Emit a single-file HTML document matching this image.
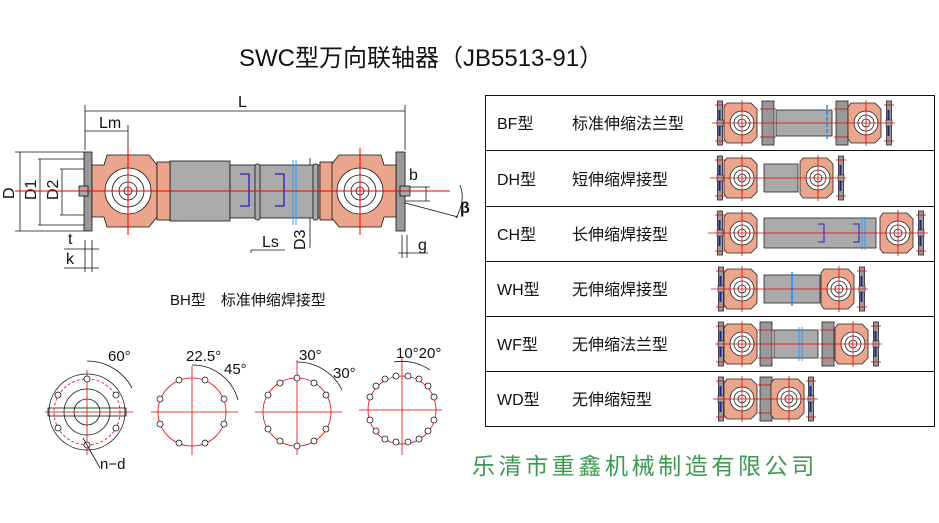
<!DOCTYPE html>
<html><head><meta charset="utf-8"><style>
html,body{margin:0;padding:0;background:#fff}
svg{display:block}
text{font-family:"Liberation Sans","Noto Sans CJK SC",sans-serif}
</style></head><body>
<svg width="939" height="523" viewBox="0 0 939 523" xmlns="http://www.w3.org/2000/svg">
<defs>
<g id="yk">
<path d="M-15,-20 h24 l6,6 v28 l-6,6 h-24 l-3,-4 v-32z" fill="#eba58c" stroke="#222" stroke-width="0.8"/>
<circle r="12" fill="#fff" stroke="#222" stroke-width="0.8"/>
<circle r="8" fill="none" stroke="#222" stroke-width="0.8"/>
<circle r="4" fill="none" stroke="#222" stroke-width="0.8"/>
<line x1="0" y1="-23" x2="0" y2="23" stroke="#e00" stroke-width="0.8"/>
</g>
<g id="fl">
<rect x="-2.5" y="-22" width="5" height="44" fill="#999" stroke="#222" stroke-width="0.8"/>
<rect x="-1.5" y="-13" width="2" height="26" fill="#228"/>
<rect x="-3" y="-3" width="6" height="6" fill="#aaa" stroke="#222" stroke-width="0.6"/>
<line x1="-5" y1="-18" x2="5" y2="-18" stroke="#e00" stroke-width="0.8"/>
<line x1="-5" y1="18" x2="5" y2="18" stroke="#e00" stroke-width="0.8"/>
</g>
<g id="ff">
<rect x="-6" y="-22" width="12" height="44" fill="#999" stroke="#222" stroke-width="0.8"/>
<line x1="-8" y1="-14" x2="8" y2="-14" stroke="#e00" stroke-width="0.8"/>
<line x1="-8" y1="14" x2="8" y2="14" stroke="#e00" stroke-width="0.8"/>
</g>
</defs>

<text x="239" y="66" font-size="24" fill="#111">SWC型万向联轴器（JB5513-91）</text>

<!-- main drawing -->
<g stroke="#111" stroke-width="0.8">
<line x1="85" y1="111" x2="405" y2="111"/>
<line x1="85" y1="105" x2="85" y2="150"/>
<line x1="405" y1="105" x2="405" y2="150"/>
<line x1="85" y1="131" x2="128" y2="131"/>
<line x1="128" y1="125" x2="128" y2="150"/>
<line x1="20" y1="152" x2="20" y2="231"/>
<line x1="15" y1="152" x2="84" y2="152"/>
<line x1="15" y1="231" x2="84" y2="231"/>
<line x1="40" y1="159" x2="40" y2="225"/>
<line x1="38" y1="159" x2="84" y2="159"/>
<line x1="38" y1="225" x2="84" y2="225"/>
<line x1="62" y1="169" x2="62" y2="215"/>
<line x1="60" y1="169" x2="84" y2="169"/>
<line x1="60" y1="215" x2="84" y2="215"/>
<line x1="64" y1="249" x2="99" y2="249"/>
<line x1="64" y1="268" x2="99" y2="268"/>
<line x1="85" y1="240" x2="85" y2="272"/>
<line x1="92" y1="240" x2="92" y2="272"/>
<line x1="251" y1="250" x2="251" y2="253"/>
<line x1="251" y1="250" x2="285" y2="250"/>
<line x1="310" y1="158" x2="310" y2="248"/>
<line x1="398" y1="253" x2="428" y2="253"/>
<line x1="402" y1="235" x2="402" y2="258"/>
<line x1="407" y1="235" x2="407" y2="258"/>
<line x1="426" y1="187" x2="426" y2="201"/>
<line x1="405" y1="187" x2="430" y2="187"/>
<line x1="405" y1="201" x2="430" y2="201"/>
<line x1="360" y1="191" x2="458" y2="217"/>
<path d="M460,185 Q466,200 456,218" fill="none"/>
</g>
<g font-size="16" fill="#111">
<text x="238" y="107">L</text>
<text x="99" y="128">Lm</text>
<text x="262" y="247">Ls</text>
<text x="409" y="180">b</text>
<text x="418" y="250">g</text>
<text x="68" y="244">t</text>
<text x="66" y="264">k</text>
<text x="460" y="213" font-weight="bold">β</text>
<text transform="translate(14,199) rotate(-90)">D</text>
<text transform="translate(36,200) rotate(-90)">D1</text>
<text transform="translate(58,200) rotate(-90)">D2</text>
<text transform="translate(305,250) rotate(-90)">D3</text>
</g>
<!-- flanges -->
<rect x="84" y="152" width="8" height="79" fill="#999" stroke="#111" stroke-width="0.8"/>
<rect x="79" y="186" width="9" height="10" fill="#aaa" stroke="#111" stroke-width="0.8"/>
<rect x="396" y="152" width="9" height="79" fill="#999" stroke="#111" stroke-width="0.8"/>
<rect x="400" y="186" width="10" height="10" fill="#aaa" stroke="#111" stroke-width="0.8"/>
<!-- shaft -->
<rect x="170" y="161" width="60" height="60" fill="#aaa" stroke="#111" stroke-width="0.8"/>
<rect x="230" y="165" width="95" height="53" fill="#aaa" stroke="#111" stroke-width="0.8"/>
<rect x="255" y="164" width="5" height="56" rx="2" fill="#aaa" stroke="#111" stroke-width="0.8"/>
<rect x="313" y="164" width="5" height="56" rx="2" fill="#aaa" stroke="#111" stroke-width="0.8"/>
<path d="M240,174 h9 v32 h-9 M275,174 h9 v32 h-9" fill="none" stroke="#22b" stroke-width="1.3"/>
<line x1="293" y1="160" x2="293" y2="225" stroke="#39f" stroke-width="1"/>
<line x1="296" y1="160" x2="296" y2="225" stroke="#39f" stroke-width="1"/>
<!-- yokes -->
<path d="M92,165 h12 l3,-10 h42 l8,10 v52 l-8,10 h-42 l-3,-10 h-12z" fill="#eba58c" stroke="#111" stroke-width="0.8"/>
<path d="M396,165 h-12 l-3,-10 h-42 l-8,10 v52 l8,10 h42 l3,-10 h12z" fill="#eba58c" stroke="#111" stroke-width="0.8"/>
<rect x="157" y="162" width="13" height="58" fill="#eba58c" stroke="#111" stroke-width="0.8"/>
<rect x="320" y="162" width="12" height="58" fill="#eba58c" stroke="#111" stroke-width="0.8"/>
<g fill="#fff" stroke="#111" stroke-width="0.8">
<circle cx="128" cy="191" r="23"/><circle cx="128" cy="191" r="16" fill="none"/><circle cx="128" cy="191" r="9" fill="none"/><circle cx="128" cy="191" r="4" fill="none"/>
<circle cx="360" cy="191" r="23"/><circle cx="360" cy="191" r="16" fill="none"/><circle cx="360" cy="191" r="9" fill="none"/><circle cx="360" cy="191" r="4" fill="none"/>
</g>
<g stroke="#e00" stroke-width="1">
<line x1="15" y1="191" x2="450" y2="191"/>
<line x1="128" y1="148" x2="128" y2="235"/>
<line x1="360" y1="148" x2="360" y2="235"/>
</g>
<text x="170" y="305" font-size="15" fill="#111" font-family="Liberation Serif,Noto Sans CJK SC,sans-serif">BH型　标准伸缩焊接型</text>

<!-- bottom circles -->
<g fill="none" stroke-width="0.8">
<g stroke="#111"><circle cx="87" cy="412" r="38"/><circle cx="87" cy="412" r="23"/><circle cx="87" cy="412" r="13"/><rect x="48" y="408" width="78" height="8"/></g>
<circle cx="87" cy="412" r="33" stroke="#e00" stroke-dasharray="3,2"/>
<g stroke="#e00"><line x1="45" y1="412" x2="133" y2="412"/><line x1="87" y1="370" x2="87" y2="455"/></g>
<g stroke="#111" fill="#fff"><circle cx="87" cy="379" r="3"/><circle cx="87" cy="445" r="3"/><circle cx="58" cy="395" r="3"/><circle cx="116" cy="395" r="3"/><circle cx="58" cy="428" r="3"/><circle cx="116" cy="428" r="3"/></g>
<path d="M87,361 A51,51 0 0 1 132,388" stroke="#111"/>
<line x1="83" y1="438" x2="100" y2="468" stroke="#111"/>
<circle cx="192" cy="412" r="34" stroke="#e00"/>
<g stroke="#e00"><line x1="151" y1="412" x2="238" y2="412"/><line x1="192" y1="366" x2="192" y2="455"/></g>
<circle cx="297" cy="412" r="34" stroke="#e00"/>
<g stroke="#e00"><line x1="255" y1="412" x2="342" y2="412"/><line x1="297" y1="360" x2="297" y2="455"/></g>
<circle cx="402" cy="410" r="34" stroke="#e00"/>
<g stroke="#e00"><line x1="359" y1="410" x2="442" y2="410"/><line x1="402" y1="358" x2="402" y2="455"/></g>
<path d="M192,365 A47,47 0 0 1 238,400" stroke="#111"/>
<path d="M297,362 A50,50 0 0 1 342,390" stroke="#111"/>
<path d="M394,362 A49,49 0 0 1 430,370" stroke="#111"/>
</g>
<g fill="#fff" stroke="#111" stroke-width="0.8">
<circle cx="205" cy="380" r="3"/><circle cx="179" cy="380" r="3"/><circle cx="224" cy="399" r="3"/><circle cx="160" cy="399" r="3"/><circle cx="224" cy="424" r="3"/><circle cx="160" cy="424" r="3"/><circle cx="205" cy="443" r="3"/><circle cx="179" cy="443" r="3"/>
<circle cx="297" cy="378" r="3"/><circle cx="297" cy="446" r="3"/><circle cx="314" cy="383" r="3"/><circle cx="280" cy="383" r="3"/><circle cx="326" cy="395" r="3"/><circle cx="268" cy="395" r="3"/><circle cx="326" cy="429" r="3"/><circle cx="268" cy="429" r="3"/><circle cx="314" cy="441" r="3"/><circle cx="280" cy="441" r="3"/>
<circle cx="396" cy="376" r="3"/><circle cx="408" cy="376" r="3"/><circle cx="419" cy="379" r="3"/><circle cx="385" cy="379" r="3"/><circle cx="428" cy="386" r="3"/><circle cx="376" cy="386" r="3"/><circle cx="434" cy="397" r="3"/><circle cx="370" cy="397" r="3"/><circle cx="434" cy="420" r="3"/><circle cx="370" cy="420" r="3"/><circle cx="428" cy="431" r="3"/><circle cx="376" cy="431" r="3"/><circle cx="419" cy="439" r="3"/><circle cx="385" cy="439" r="3"/><circle cx="408" cy="442" r="3"/><circle cx="396" cy="442" r="3"/>
</g>
<g font-size="15" fill="#111">
<text x="108" y="361">60°</text>
<text x="186" y="361">22.5°</text>
<text x="224" y="374">45°</text>
<text x="299" y="360">30°</text>
<text x="333" y="378">30°</text>
<text x="396" y="358">10°20°</text>
<text x="100" y="469">n−d</text>
</g>

<!-- table -->
<g stroke="#111" stroke-width="1" fill="none">
<rect x="485.5" y="95.5" width="449" height="331"/>
<line x1="485" y1="150.5" x2="935" y2="150.5"/>
<line x1="485" y1="206.5" x2="935" y2="206.5"/>
<line x1="485" y1="261.5" x2="935" y2="261.5"/>
<line x1="485" y1="316.5" x2="935" y2="316.5"/>
<line x1="485" y1="371.5" x2="935" y2="371.5"/>
</g>
<g font-size="16" fill="#111" font-family="Liberation Serif,Noto Sans CJK SC,sans-serif">
<text x="497" y="129">BF型</text><text x="572" y="129">标准伸缩法兰型</text>
<text x="497" y="185">DH型</text><text x="572" y="185">短伸缩焊接型</text>
<text x="497" y="240">CH型</text><text x="572" y="240">长伸缩焊接型</text>
<text x="497" y="295">WH型</text><text x="572" y="295">无伸缩焊接型</text>
<text x="497" y="350">WF型</text><text x="572" y="350">无伸缩法兰型</text>
<text x="497" y="405">WD型</text><text x="572" y="405">无伸缩短型</text>
</g>
<!-- BF -->
<rect x="776" y="110" width="56" height="26" fill="#aaa" stroke="#222" stroke-width="0.8"/>
<use href="#fl" x="720" y="123"/><use href="#yk" x="742" y="123"/><use href="#ff" x="768" y="123"/>
<use href="#ff" x="842" y="123"/><use href="#yk" x="866" y="123"/><use href="#fl" x="889" y="123"/>
<line x1="827" y1="105" x2="827" y2="140" stroke="#28e" stroke-width="1.5" stroke-dasharray="4,2"/>
<line x1="712" y1="123" x2="895" y2="123" stroke="#e00" stroke-width="0.8"/>
<!-- DH -->
<rect x="764" y="164" width="34" height="28" fill="#aaa" stroke="#222" stroke-width="0.8"/>
<use href="#fl" x="720" y="178"/><use href="#yk" x="742" y="178"/><use href="#yk" x="818" y="178"/><use href="#fl" x="841" y="178"/>
<line x1="710" y1="178" x2="846" y2="178" stroke="#e00" stroke-width="0.8"/>
<!-- CH -->
<rect x="764" y="218" width="112" height="30" fill="#aaa" stroke="#222" stroke-width="0.8"/>
<path d="M818,224 h6 v18 h-6 M853,224 h6 v18 h-6" fill="none" stroke="#22b" stroke-width="1"/>
<line x1="862" y1="217" x2="862" y2="250" stroke="#39f"/><line x1="865" y1="217" x2="865" y2="250" stroke="#39f"/>
<use href="#fl" x="720" y="233"/><use href="#yk" x="742" y="233"/><use href="#yk" x="898" y="233"/><use href="#fl" x="921" y="233"/>
<line x1="708" y1="233" x2="928" y2="233" stroke="#e00" stroke-width="0.8"/>
<!-- WH -->
<rect x="764" y="275" width="56" height="28" fill="#aaa" stroke="#222" stroke-width="0.8"/>
<line x1="792" y1="272" x2="792" y2="306" stroke="#28e" stroke-width="1.5"/>
<use href="#fl" x="721" y="289"/><use href="#yk" x="742" y="289"/><use href="#yk" x="839" y="289"/><use href="#fl" x="862" y="289"/>
<line x1="711" y1="289" x2="868" y2="289" stroke="#e00" stroke-width="0.8"/>
<!-- WF -->
<rect x="774" y="330" width="44" height="28" fill="#aaa" stroke="#222" stroke-width="0.8"/>
<line x1="799" y1="327" x2="799" y2="361" stroke="#39f"/><line x1="802" y1="327" x2="802" y2="361" stroke="#39f"/>
<use href="#fl" x="721" y="344"/><use href="#yk" x="742" y="344"/><use href="#ff" x="766" y="344"/><use href="#ff" x="828" y="344"/><use href="#yk" x="853" y="344"/><use href="#fl" x="876" y="344"/>
<line x1="715" y1="344" x2="882" y2="344" stroke="#e00" stroke-width="0.8"/>
<!-- WD -->
<use href="#fl" x="721" y="399"/><use href="#yk" x="742" y="399"/><use href="#ff" x="766" y="399"/><use href="#yk" x="789" y="399"/><use href="#fl" x="811" y="399"/>
<line x1="713" y1="399" x2="818" y2="399" stroke="#e00" stroke-width="0.8"/>

<text x="472" y="474" font-size="23" fill="#3c9a50" font-family="Liberation Serif,Noto Serif CJK SC,serif" letter-spacing="3.6">乐清市重鑫机械制造有限公司</text>
</svg>
</body></html>
